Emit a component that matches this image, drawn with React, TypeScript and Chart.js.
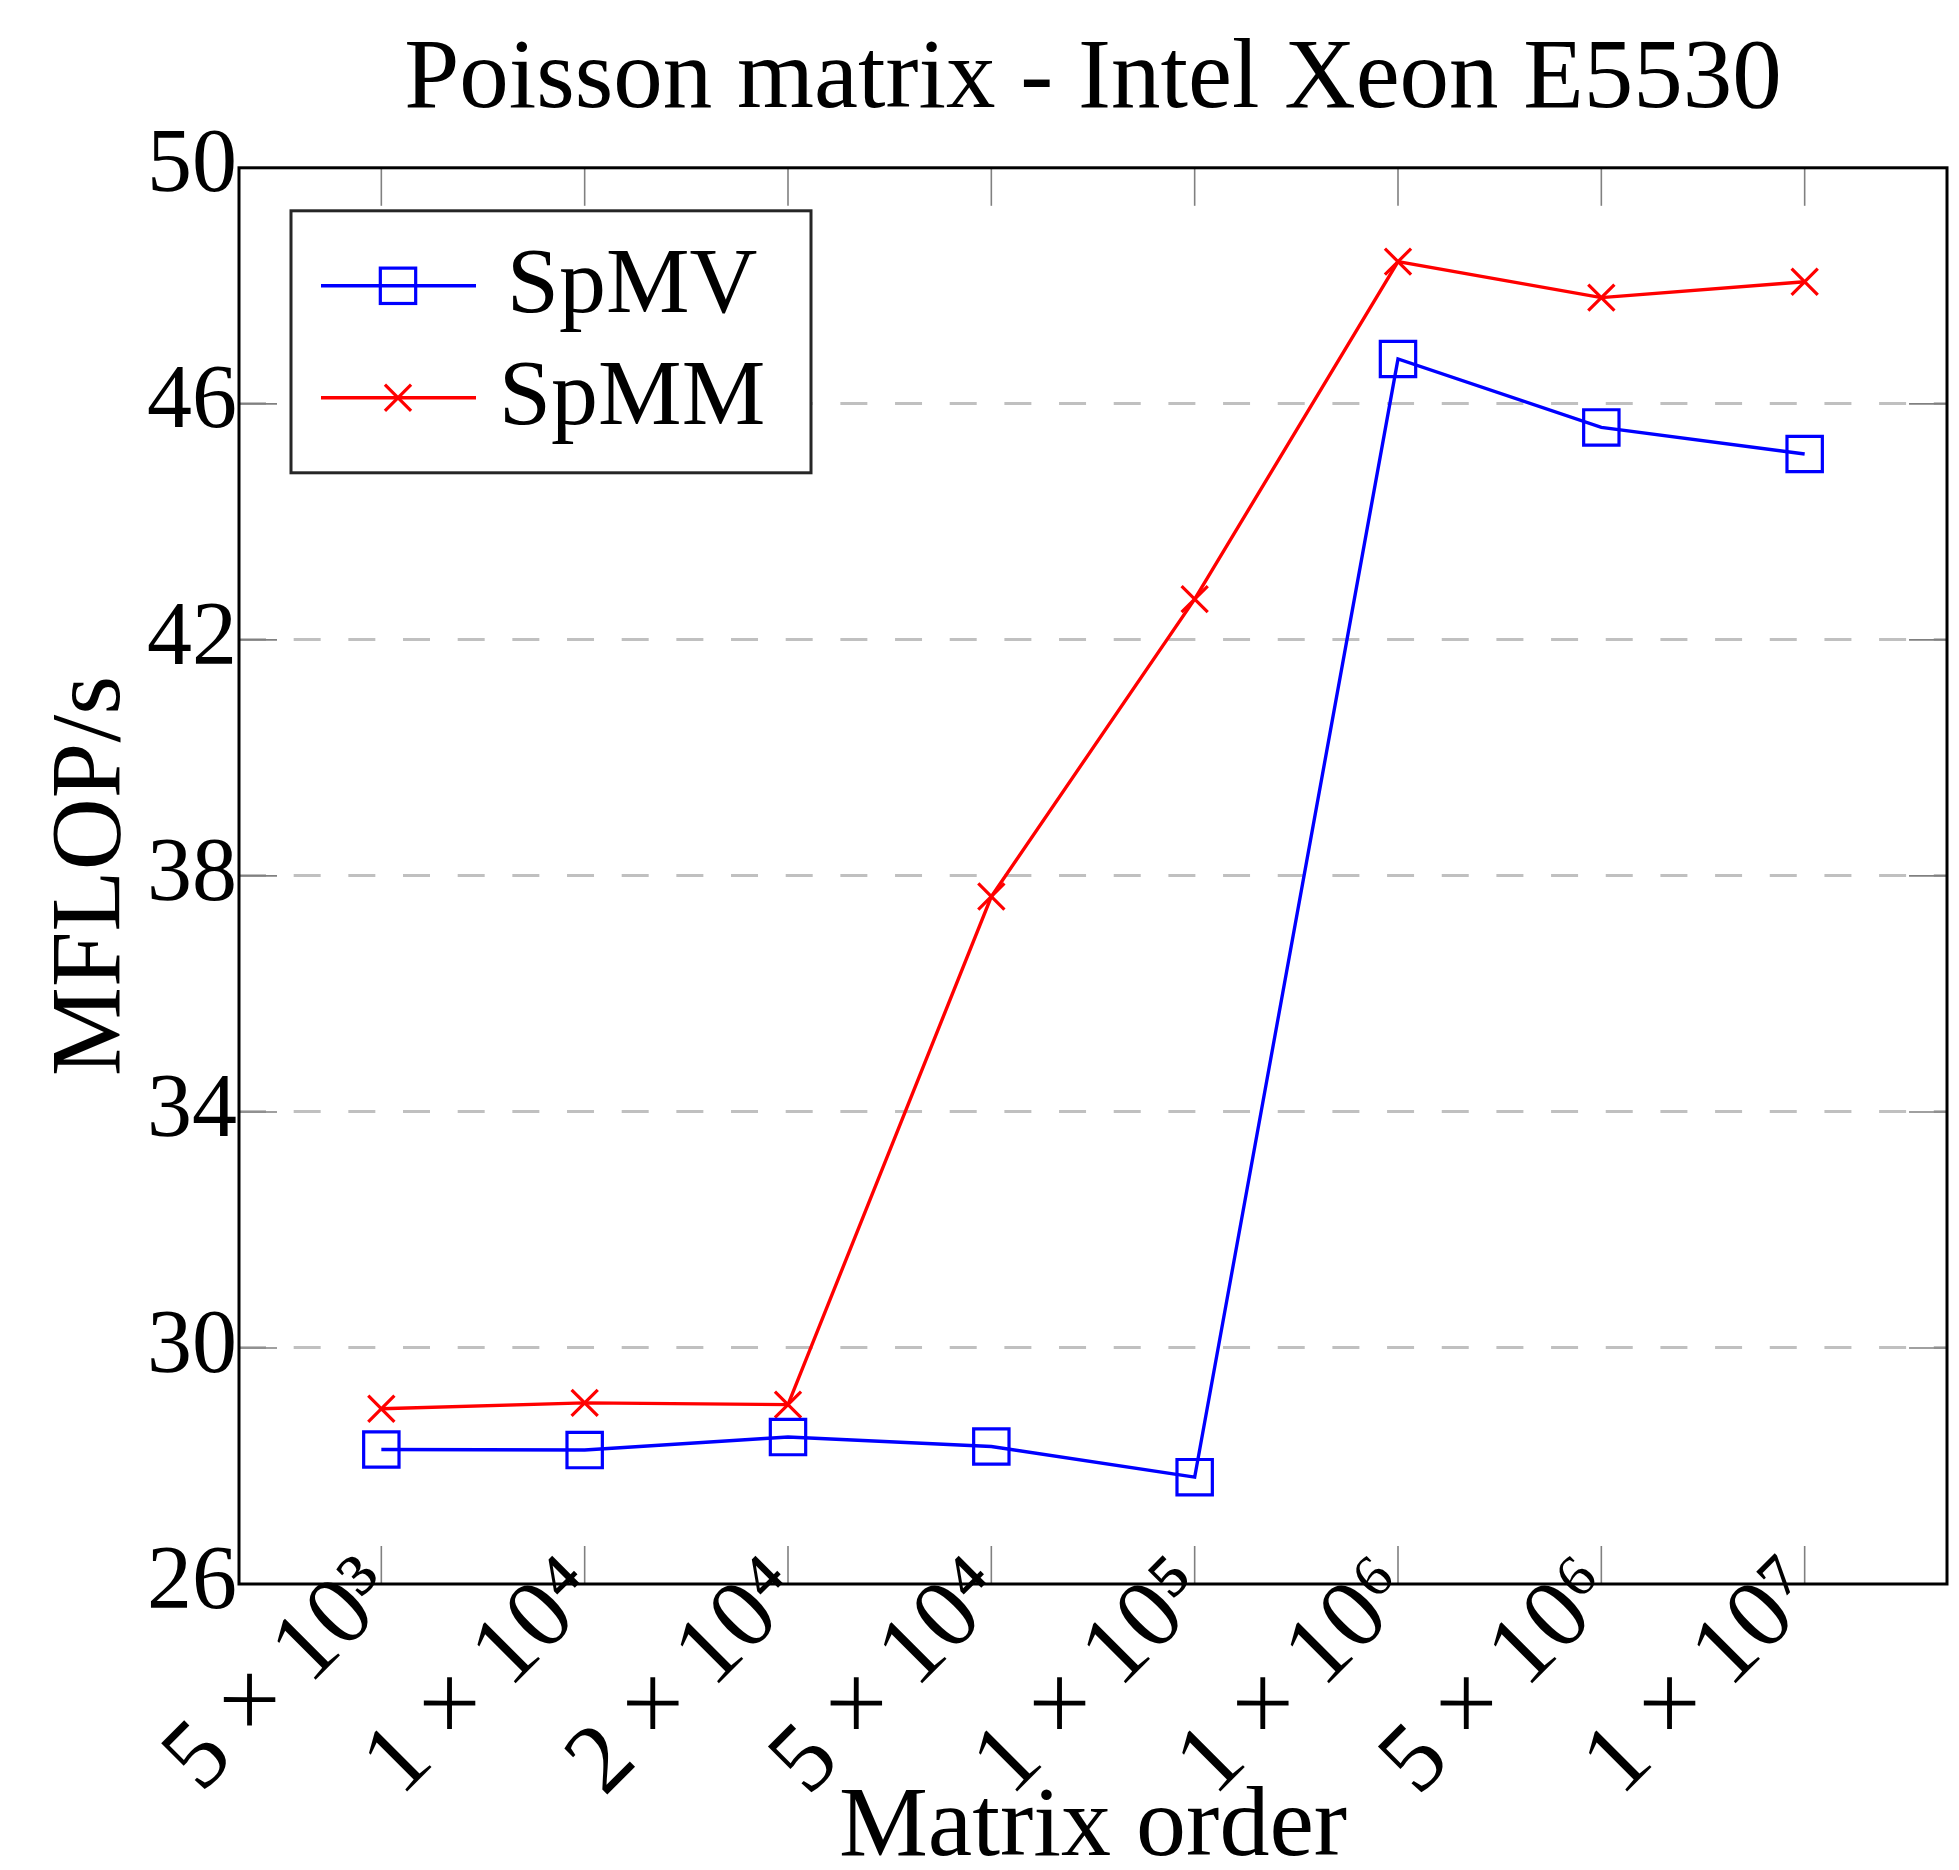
import React, { useEffect, useRef } from 'react';
import { Chart, registerables } from 'chart.js';

Chart.register(...registerables);

const TITLE = 'Poisson matrix - Intel Xeon E5530';
const X_TITLE = 'Matrix order';
const Y_TITLE = 'MFLOP/s';
const xLabels = ['5 × 10³', '1 × 10⁴', '2 × 10⁴', '5 × 10⁴', '1 × 10⁵', '1 × 10⁶', '5 × 10⁶', '1 × 10⁷'];
const spmvValues = [28.28, 28.27, 28.49, 28.33, 27.81, 46.76, 45.6, 45.15];
const spmmValues = [28.97, 29.07, 29.04, 37.65, 42.69, 48.41, 47.8, 48.07];
const yMin = 26;
const yMax = 50;
const yStep = 4;

const FONT = "'Liberation Serif', 'Times New Roman', serif";
const W = 1959;
const H = 1870;

const decorPlugin = {
  id: 'decor',
  beforeDatasetsDraw(chart: any) {
    const { ctx, chartArea, scales } = chart;
    const { left, right, top, bottom } = chartArea;
    const L = 38;
    ctx.save();
    ctx.strokeStyle = '#808080';
    ctx.lineWidth = 1.6;
    ctx.setLineDash([]);
    const line = (x1: number, y1: number, x2: number, y2: number) => {
      ctx.beginPath();
      ctx.moveTo(x1, y1);
      ctx.lineTo(x2, y2);
      ctx.stroke();
    };
    scales.x.ticks.forEach((t: any) => {
      const px = scales.x.getPixelForValue(t.value);
      line(px, top, px, top + L);
      line(px, bottom, px, bottom - L);
    });
    scales.y.ticks.forEach((t: any) => {
      if (t.value === yMin || t.value === yMax) return;
      const py = scales.y.getPixelForValue(t.value);
      line(left, py, left + L, py);
      line(right, py, right - L, py);
    });
    ctx.restore();
  },
  afterDatasetsDraw(chart: any) {
    const { ctx, chartArea } = chart;
    const { left, right, top, bottom } = chartArea;
    ctx.save();
    ctx.strokeStyle = '#000';
    ctx.lineWidth = 3;
    ctx.setLineDash([]);
    ctx.strokeRect(left, top, right - left, bottom - top);
    ctx.restore();
  },
  afterDraw(chart: any) {
    const { ctx, chartArea } = chart;
    const bx = chartArea.left + 52;
    const by = chartArea.top + 43;
    const bw = 520;
    const bh = 262;
    ctx.save();
    ctx.setLineDash([]);
    ctx.fillStyle = '#fff';
    ctx.fillRect(bx, by, bw, bh);
    ctx.strokeStyle = '#262626';
    ctx.lineWidth = 3;
    ctx.strokeRect(bx, by, bw, bh);
    chart.data.datasets.forEach((ds: any, i: number) => {
      const cy = by + 75 + i * 112;
      ctx.strokeStyle = ds.borderColor;
      ctx.lineWidth = ds.borderWidth;
      ctx.beginPath();
      ctx.moveTo(bx + 30, cy);
      ctx.lineTo(bx + 185, cy);
      ctx.stroke();
      const cx = bx + 107;
      ctx.lineWidth = ds.pointBorderWidth;
      if (ds.pointStyle === 'rect') {
        const h = ds.pointRadius * Math.SQRT1_2;
        ctx.strokeRect(cx - h, cy - h, 2 * h, 2 * h);
      } else {
        const o = ds.pointRadius * Math.SQRT1_2;
        ctx.beginPath();
        ctx.moveTo(cx - o, cy - o);
        ctx.lineTo(cx + o, cy + o);
        ctx.moveTo(cx - o, cy + o);
        ctx.lineTo(cx + o, cy - o);
        ctx.stroke();
      }
      ctx.fillStyle = '#000';
      ctx.font = `94px ${FONT}`;
      ctx.textAlign = 'center';
      ctx.textBaseline = 'alphabetic';
      ctx.fillText(ds.label, bx + 341, cy + 26);
    });
    ctx.restore();
  },
};

export default function App() {
  const ref = useRef<HTMLCanvasElement | null>(null);

  useEffect(() => {
    const canvas = ref.current;
    if (!canvas) return;
    const chart = new Chart(canvas, {
      type: 'line',
      data: {
        datasets: [
          {
            label: 'SpMV',
            data: spmvValues.map((y, i) => ({ x: i, y })),
            borderColor: '#0000ff',
            backgroundColor: 'transparent',
            borderWidth: 3.4,
            pointStyle: 'rect',
            pointRadius: 25,
            pointBorderWidth: 3.2,
            pointBorderColor: '#0000ff',
            pointBackgroundColor: 'transparent',
            tension: 0,
            clip: false as any,
          },
          {
            label: 'SpMM',
            data: spmmValues.map((y, i) => ({ x: i, y })),
            borderColor: '#ff0000',
            backgroundColor: 'transparent',
            borderWidth: 3.4,
            pointStyle: 'crossRot',
            pointRadius: 18.5,
            pointBorderWidth: 3.2,
            pointBorderColor: '#ff0000',
            pointBackgroundColor: 'transparent',
            tension: 0,
            clip: false as any,
          },
        ],
      },
      options: {
        animation: false,
        responsive: false,
        devicePixelRatio: 1,
        layout: { autoPadding: false, padding: { left: 0, right: 12, top: 0, bottom: 0 } },
        plugins: {
          legend: { display: false },
          tooltip: { enabled: false },
          title: {
            display: true,
            text: TITLE,
            fullSize: false,
            color: '#000',
            font: { family: FONT, size: 99, weight: 'normal' as any },
            padding: { top: 22, bottom: 27 },
          },
        },
        scales: {
          x: {
            type: 'linear',
            min: -0.7,
            max: 7.7,
            afterBuildTicks: (s: any) => {
              s.ticks = xLabels.map((_, i) => ({ value: i }));
            },
            afterFit: (s: any) => {
              s.height = 286;
              s.paddingLeft = 0;
              s.paddingRight = 0;
              // let the rotated labels reach above the axis line, as in the original
              s._computeLabelArea = () => undefined;
            },
            ticks: {
              autoSkip: false,
              maxRotation: 45,
              minRotation: 45,
              padding: -56,
              z: 1,
              color: '#000',
              font: { family: FONT, size: 98 },
              callback: (_v: any, i: number) => xLabels[i] ?? '',
            },
            grid: { display: false },
            border: { display: false },
            title: {
              display: true,
              text: X_TITLE,
              color: '#000',
              font: { family: FONT, size: 100, lineHeight: 0.8 },
              padding: { top: 0, bottom: 1 },
            },
          },
          y: {
            type: 'linear',
            min: yMin,
            max: yMax,
            afterFit: (s: any) => {
              s.width = 239;
            },
            ticks: {
              stepSize: yStep,
              padding: 2,
              color: '#000',
              font: { family: FONT, size: 90 },
            },
            grid: {
              drawTicks: false,
              lineWidth: 3,
              color: (c: any) =>
                c.tick && (c.tick.value === yMin || c.tick.value === yMax)
                  ? 'rgba(0,0,0,0)'
                  : '#c0c0c0',
            },
            border: { display: false, dash: [27, 27.67] },
            title: {
              display: true,
              text: Y_TITLE,
              color: '#000',
              font: { family: FONT, size: 100 },
              padding: { top: 33, bottom: 0 },
            },
          },
        },
      } as any,
      plugins: [decorPlugin],
    });
    return () => chart.destroy();
  }, []);

  return (
    <div style={{ position: 'fixed', left: 0, top: 0, width: W, height: H, background: '#fff' }}>
      <canvas ref={ref} width={W} height={H} style={{ width: W, height: H, display: 'block' }} />
    </div>
  );
}
